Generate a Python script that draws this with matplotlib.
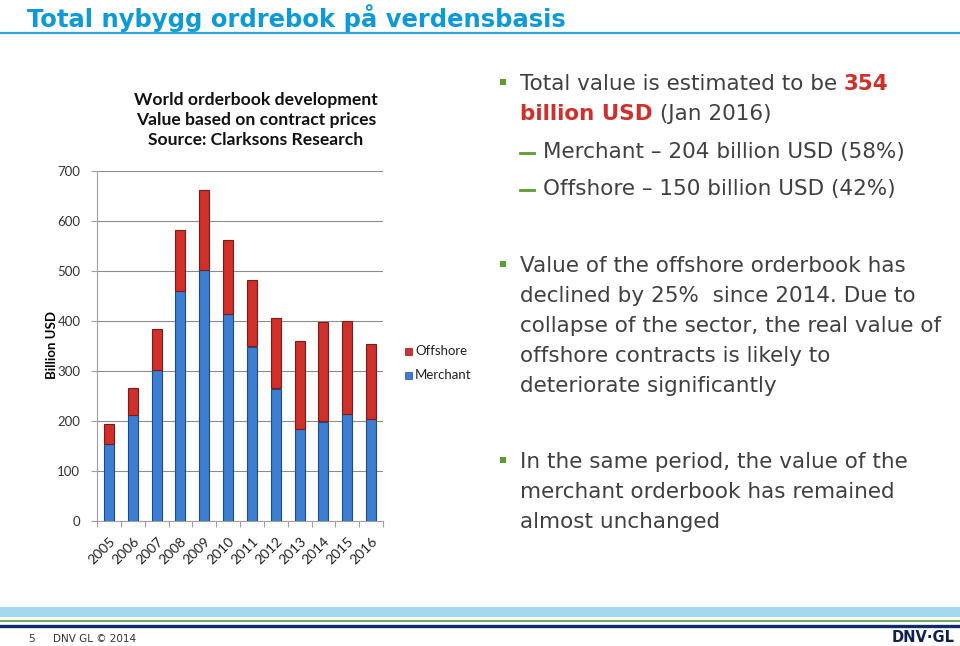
import matplotlib
matplotlib.use("Agg")
import matplotlib.pyplot as plt
from matplotlib.patches import Rectangle

years = ['2005', '2006', '2007', '2008', '2009', '2010',
         '2011', '2012', '2013', '2014', '2015', '2016']
merchant = [154, 212, 302, 459, 502, 414, 349, 265, 185, 199, 214, 204]
offshore = [40, 53, 82, 123, 159, 148, 132, 140, 175, 198, 186, 150]
y_ticks = [0, 100, 200, 300, 400, 500, 600, 700]

W, H = 960, 646
TEXT = '#404040'
GREEN = '#5A9E32'
RED = '#D0302B'
BLUE = '#3D7ED3'


def fx(x):
    return x / W


def fy(y):
    return 1 - y / H


fig = plt.figure(figsize=(9.6, 6.46), dpi=100)

# slide header
fig.text(fx(27), fy(18), 'Total nybygg ordrebok på verdensbasis', fontsize=17.5,
         fontweight='bold', color='#0E9AD6', va='center', family='DejaVu Sans')
fig.add_artist(plt.Line2D([0, 1], [fy(33), fy(33)], color='#2BA6DE', lw=1.6))

# chart
ax = fig.add_axes([fx(97), fy(521), fx(383 - 97), (521 - 171) / H])
x = range(len(years))
ax.bar(x, merchant, width=0.42, color=BLUE, edgecolor='#1E4A8C', linewidth=0.8,
       label='Merchant', zorder=3)
ax.bar(x, offshore, width=0.42, bottom=merchant, color=RED, edgecolor='#7C1B18',
       linewidth=0.8, label='Offshore', zorder=3)

ax.set_xlim(-0.5, len(years) - 0.5)
ax.set_ylim(0, 700)
ax.set_yticks(y_ticks)
ax.set_yticklabels([str(v) for v in y_ticks], fontsize=9.5, color='#333333',
                   family='Lato')
ax.yaxis.grid(True, color='#8C8C8C', lw=0.8, zorder=0)
ax.tick_params(axis='y', length=4, color='#A0A0A0', pad=8)

ax.set_xticks([i - 0.5 for i in range(len(years) + 1)], minor=False)
ax.set_xticklabels([''] * (len(years) + 1))
ax.tick_params(axis='x', length=4, color='#A0A0A0', direction='out')
ax.set_xticks(list(x), minor=True)
ax.set_xticklabels(years, minor=True, rotation=45, ha='right',
                   rotation_mode='anchor', fontsize=10, color='#222222',
                   family='Lato')
ax.tick_params(axis='x', which='minor', length=0, pad=10)

for s in ['top', 'right']:
    ax.spines[s].set_visible(False)
ax.spines['left'].set_color('#A0A0A0')
ax.spines['bottom'].set_color('#A0A0A0')

fig.text(fx(52), fy(345), 'Billion USD', rotation=90, fontsize=9.5,
         fontweight='bold', va='center', ha='center', family='Lato')

fig.text(fx(256), fy(120),
         'World orderbook development\nValue based on contract prices\nSource: Clarksons Research',
         fontsize=12.6, fontweight='bold', ha='center', va='center',
         linespacing=1.3, family='Lato', color='#111111')

# legend
for yy, col, ec, lab in [(351, RED, '#7C1B18', 'Offshore'),
                         (375, BLUE, '#1E4A8C', 'Merchant')]:
    fig.add_artist(Rectangle((fx(405), fy(yy + 3.5)), fx(7), 7 / H,
                             facecolor=col, edgecolor=ec, lw=0.5))
    fig.text(fx(415), fy(yy), lab, fontsize=9.5, va='center', family='Lato',
             color='#222222')

# right-hand bullet text
FS = 15.5
fig.canvas.draw()
r = fig.canvas.get_renderer()


def pieces(x0, y0, parts):
    xc = x0
    for txt, col, wt in parts:
        t = fig.text(fx(xc), fy(y0), txt, fontsize=FS, color=col,
                     fontweight=wt, va='center', family='DejaVu Sans')
        xc += t.get_window_extent(r).width


def bullet(y0):
    fig.add_artist(Rectangle((fx(500), fy(y0 + 3)), fx(6), 6 / H,
                             facecolor=GREEN, edgecolor='none'))


def dash(y0):
    fig.add_artist(plt.Line2D([fx(520), fx(534)], [fy(y0 + 1), fy(y0 + 1)],
                              color=GREEN, lw=2))


bullet(82)
pieces(520, 84, [('Total value is estimated to be ', TEXT, 'normal'),
                 ('354', RED, 'bold')])
pieces(520, 114, [('billion USD', RED, 'bold'), (' (Jan 2016)', TEXT, 'normal')])
dash(152)
pieces(543, 152, [('Merchant \u2013 204 billion USD (58%)', TEXT, 'normal')])
dash(189)
pieces(543, 189, [('Offshore \u2013 150 billion USD (42%)', TEXT, 'normal')])

bullet(264)
lines2 = ['Value of the offshore orderbook has',
          'declined by 25%  since 2014. Due to',
          'collapse of the sector, the real value of',
          'offshore contracts is likely to',
          'deteriorate significantly']
for i, ln in enumerate(lines2):
    pieces(520, 266 + 30 * i, [(ln, TEXT, 'normal')])

bullet(460)
lines3 = ['In the same period, the value of the',
          'merchant orderbook has remained',
          'almost unchanged']
for i, ln in enumerate(lines3):
    pieces(520, 462 + 30 * i, [(ln, TEXT, 'normal')])

# footer
fig.add_artist(Rectangle((0, fy(617)), 1, 10 / H, facecolor='#A2D8F0',
                         edgecolor='none'))
fig.add_artist(plt.Line2D([0, 1], [fy(621), fy(621)], color='#5A9A3A', lw=1.2))
fig.add_artist(plt.Line2D([0, 1], [fy(625.5), fy(625.5)], color='#0F2D6B', lw=2.4))
fig.text(fx(28), fy(639), '5', fontsize=7.5, color='#333333', va='center')
fig.text(fx(53), fy(639), 'DNV GL \u00a9 2014', fontsize=7.5, color='#333333',
         va='center')
fig.text(fx(955), fy(638), 'DNV\u00b7GL', fontsize=10.5, fontweight='bold',
         color='#0F204B', va='center', ha='right')

fig.savefig('out.png', dpi=100)
plt.close(fig)
